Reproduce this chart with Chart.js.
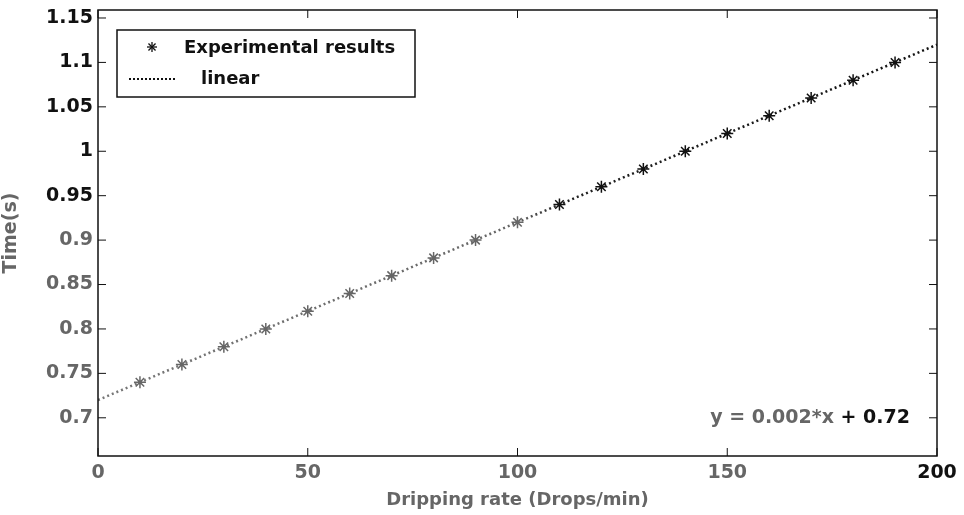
<!DOCTYPE html>
<html>
<head>
<meta charset="utf-8">
<script src="https://cdn.jsdelivr.net/npm/chart.js@4"></script>
<style>
  html, body { margin: 0; padding: 0; background: #fff; }
  #wrap { width: 964px; height: 515px; }
</style>
</head>
<body>
<div id="wrap"><canvas id="main_chart"></canvas></div>
<script>
// data
const dripRates = [10, 20, 30, 40, 50, 60, 70, 80, 90, 100, 110, 120, 130, 140, 150, 160, 170, 180, 190];
const times = [0.74, 0.76, 0.78, 0.80, 0.82, 0.84, 0.86, 0.88, 0.90, 0.92, 0.94, 0.96, 0.98, 1.00, 1.02, 1.04, 1.06, 1.08, 1.10];
const fitX = [0, 200];
const fitY = [0.72, 1.12];
const xTicks = [0, 50, 100, 150, 200];
const yTicks = [0.7, 0.75, 0.8, 0.85, 0.9, 0.95, 1, 1.05, 1.1, 1.15];
const equationParts = ['y = 0.002*x', ' + 0.72'];

const FONT = 'DejaVu Sans, Verdana, sans-serif';

document.addEventListener("DOMContentLoaded", function () {
    // faded on the left (watermark), dark on the right
    function shade(x) {
        return x < 105 ? '#666666' : '#111111';
    }

    // MATLAB-like frame, inward ticks, legend box and equation
    const matlabFrame = {
        id: 'matlabFrame',
        afterDatasetsDraw(chart) {
            const c = chart.ctx;
            const a = chart.chartArea;
            const xs = chart.scales.x, ys = chart.scales.y;
            c.save();
            c.strokeStyle = '#111';
            c.lineWidth = 1.5;
            c.strokeRect(a.left, a.top, a.right - a.left, a.bottom - a.top);
            c.lineWidth = 1;
            xTicks.forEach(v => {
                const px = xs.getPixelForValue(v);
                c.beginPath(); c.moveTo(px, a.bottom); c.lineTo(px, a.bottom - 8); c.stroke();
                c.beginPath(); c.moveTo(px, a.top); c.lineTo(px, a.top + 8); c.stroke();
            });
            yTicks.forEach(v => {
                const py = ys.getPixelForValue(v);
                c.beginPath(); c.moveTo(a.left, py); c.lineTo(a.left + 8, py); c.stroke();
                c.beginPath(); c.moveTo(a.right, py); c.lineTo(a.right - 8, py); c.stroke();
            });

            // legend box
            const bx = 117, by = 30, bw = 298, bh = 67;
            c.fillStyle = '#fff';
            c.fillRect(bx, by, bw, bh);
            c.strokeStyle = '#111';
            c.lineWidth = 1.5;
            c.strokeRect(bx, by, bw, bh);
            c.font = 'bold 18px ' + FONT;
            c.fillStyle = '#111';
            c.textBaseline = 'middle';
            c.textAlign = 'left';
            const ds = chart.data.datasets;
            // star marker
            const sx = 152, sy = 47;
            c.lineWidth = 1.3;
            for (let k = 0; k < 4; k++) {
                const ang = k * Math.PI / 4;
                c.beginPath();
                c.moveTo(sx - 5 * Math.cos(ang), sy - 5 * Math.sin(ang));
                c.lineTo(sx + 5 * Math.cos(ang), sy + 5 * Math.sin(ang));
                c.stroke();
            }
            c.fillText(ds[0].label, 184, 48);
            c.setLineDash([2, 2]);
            c.lineWidth = 2;
            c.beginPath(); c.moveTo(129, 79); c.lineTo(177, 79); c.stroke();
            c.setLineDash([]);
            c.fillText(ds[1].label, 201, 79);

            // fit equation, faded left part, dark right part
            c.font = 'bold 19px ' + FONT;
            c.textAlign = 'left';
            const w0 = c.measureText(equationParts[0]).width;
            const w1 = c.measureText(equationParts[1]).width;
            const ex = 910 - w0 - w1;
            c.fillStyle = '#666';
            c.fillText(equationParts[0], ex, 418);
            c.fillStyle = '#111';
            c.fillText(equationParts[1], ex + w0, 418);
            c.restore();
        }
    };

    const ctx = document.getElementById("main_chart").getContext("2d");
    const mainChart = new Chart(ctx, {
        type: 'scatter',
        data: {
            datasets: [
                {
                    label: 'Experimental results',
                    data: dripRates.map((x, i) => ({ x: x, y: times[i] })),
                    pointStyle: 'star',
                    pointRadius: 6,
                    pointBorderWidth: 1.5,
                    pointBorderColor: (c) => shade(dripRates[c.dataIndex]),
                    pointBackgroundColor: 'transparent',
                    showLine: false,
                    order: 1
                },
                {
                    label: 'linear',
                    data: fitX.map((x, i) => ({ x: x, y: fitY[i] })),
                    showLine: true,
                    pointRadius: 0,
                    borderWidth: 2.5,
                    borderDash: [2, 3],
                    borderColor: (c) => {
                        const a = c.chart.chartArea;
                        if (!a) return '#444';
                        const g = c.chart.ctx.createLinearGradient(a.left, 0, a.right, 0);
                        g.addColorStop(0, '#777');
                        g.addColorStop(0.5, '#666');
                        g.addColorStop(0.55, '#222');
                        g.addColorStop(1, '#111');
                        return g;
                    },
                    order: 2
                }
            ]
        },
        options: {
            responsive: true,
            maintainAspectRatio: false,
            animation: false,
            layout: { padding: { top: 10, right: 27, left: 0, bottom: 0 } },
            plugins: {
                legend: { display: false },
                tooltip: { enabled: false }
            },
            scales: {
                x: {
                    type: 'linear',
                    min: 0,
                    max: 200,
                    afterFit: (s) => { s.height = 59; s.paddingLeft = 0; s.paddingRight = 0; },
                    afterBuildTicks: (s) => { s.ticks = xTicks.map(v => ({ value: v })); },
                    grid: { display: false, drawTicks: false },
                    border: { display: false },
                    ticks: {
                        padding: 6,
                        font: { family: FONT, size: 19, weight: 'bold' },
                        color: (c) => c.tick && c.tick.value >= 200 ? '#111' : '#666'
                    },
                    title: {
                        display: true,
                        text: 'Dripping rate (Drops/min)',
                        color: '#666',
                        padding: { top: 0, bottom: 4 },
                        font: { family: FONT, size: 18, weight: 'bold' }
                    }
                },
                y: {
                    type: 'linear',
                    min: 0.657,
                    max: 1.159,
                    afterFit: (s) => { s.width = 98; s.paddingTop = 0; s.paddingBottom = 0; },
                    afterBuildTicks: (s) => { s.ticks = yTicks.map(v => ({ value: v })); },
                    grid: { display: false, drawTicks: false },
                    border: { display: false },
                    ticks: {
                        padding: 5,
                        font: { family: FONT, size: 19, weight: 'bold' },
                        color: (c) => c.tick && c.tick.value >= 0.94 ? '#111' : '#666',
                        callback: (v) => String(parseFloat(v.toFixed(2)))
                    },
                    title: {
                        display: true,
                        text: 'Time(s)',
                        color: '#666',
                        padding: { top: 0, bottom: 0 },
                        font: { family: FONT, size: 19, weight: 'bold' }
                    }
                }
            }
        },
        plugins: [matlabFrame]
    });
});
</script>
</body>
</html>
